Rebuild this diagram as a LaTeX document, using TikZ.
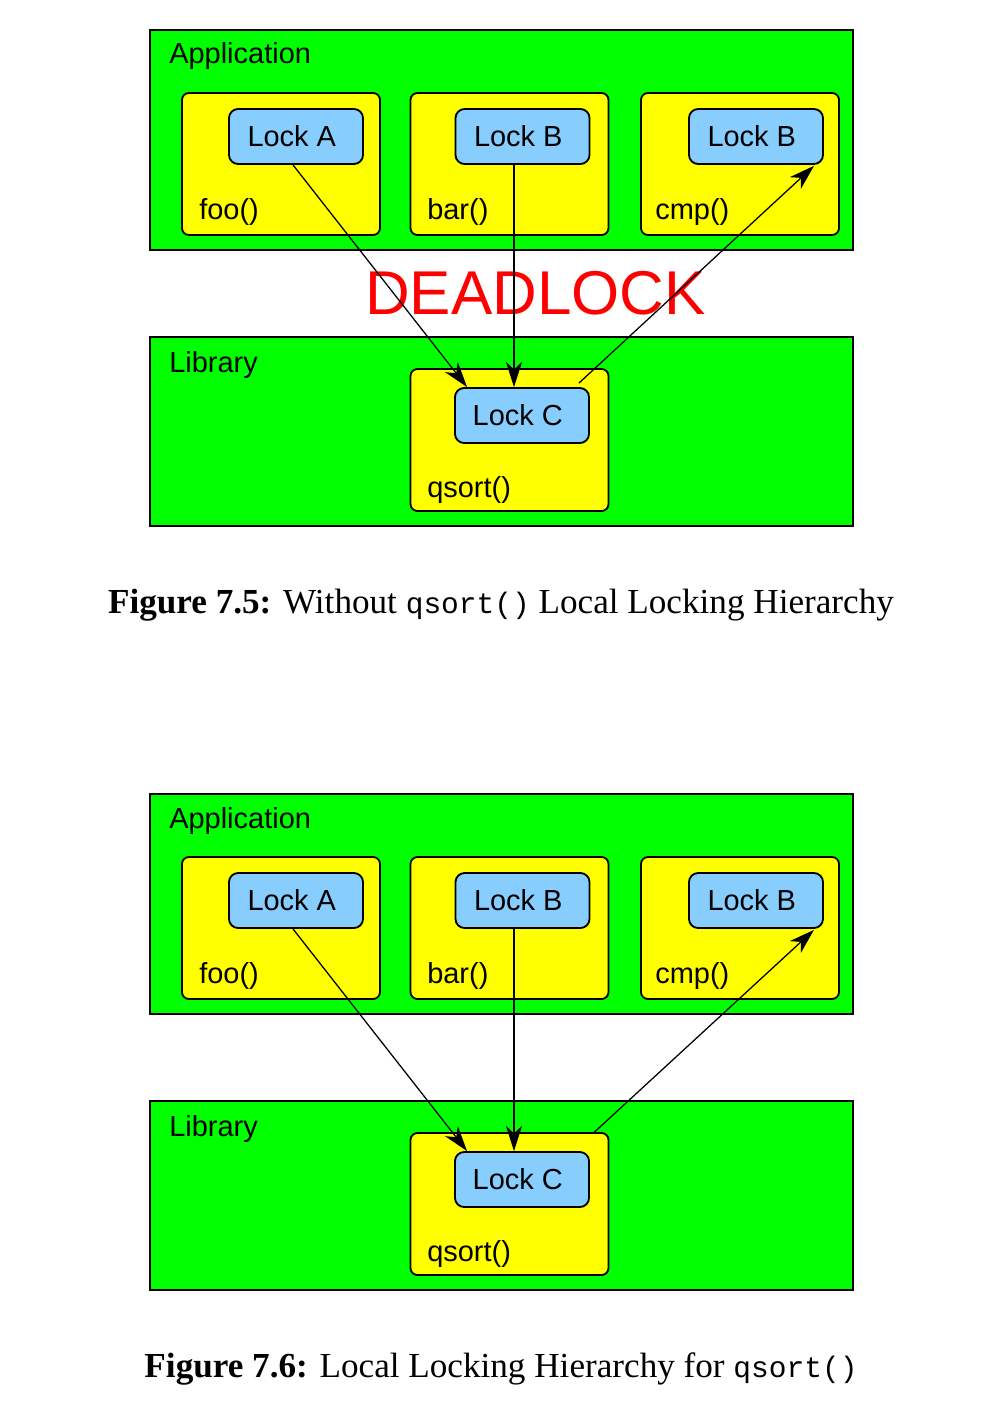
\documentclass[tikz,border=0pt]{standalone}
\usepackage{fontspec}
\setmainfont{Liberation Serif}
\setsansfont{Liberation Sans}
\setmonofont{Liberation Mono}[Scale=0.84]
\usetikzlibrary{arrows.meta, calc}
\definecolor{figgreen}{RGB}{0,255,0}
\definecolor{figyellow}{RGB}{255,255,0}
\definecolor{figblue}{RGB}{135,206,255}
\tikzset{
  layerbox/.style={draw, line width=1.3pt, fill=figgreen, minimum width=17.575cm, inner sep=0},
  funcbox/.style={draw, line width=1.3pt, fill=figyellow, rounded corners=5pt, minimum width=4.95cm, minimum height=3.55cm, inner sep=0},
  lockbox/.style={draw, line width=1.3pt, fill=figblue, rounded corners=6.5pt, minimum width=3.35cm, minimum height=1.375cm, inner sep=0, font=\sffamily\fontsize{20.6}{24}\selectfont, execute at end node=\hspace*{6pt}},
  txt/.style={anchor=base west, inner sep=0, font=\sffamily\fontsize{20.6}{24}\selectfont},
  figcap/.style={anchor=base, inner sep=0, font=\fontsize{25}{30}\selectfont},
  dep/.style={-{Stealth[length=18pt,width=11.5pt,inset=5.5pt]}, line width=0.9pt},
}

\begin{document}
\begin{tikzpicture}[x=0.025cm, y=-0.025cm]
\useasboundingbox (0,0) rectangle (989,1413);
\node[font=\sffamily\fontsize{44}{50}\selectfont, text=red, inner sep=0] (dead) at (535.5,293) {DEADLOCK};
\foreach \oy/\n in {0/1, 764/2} {
  \node[layerbox, minimum height=5.5cm] (app\n) at (501.5,140+\oy) {};
  \node[layerbox, minimum height=4.725cm] (lib\n) at (501.5,431.5+\oy) {};
  \node[funcbox] (foo\n) at (281,164+\oy) {};
  \node[funcbox] (bar\n) at (509.5,164+\oy) {};
  \node[funcbox] (cmp\n) at (740,164+\oy) {};
  \node[funcbox] (qs\n) at (509.5,440+\oy) {};
  \node[lockbox] (lockA\n) at (296,136.5+\oy) {Lock A};
  \node[lockbox] (lockB\n) at (522.5,136.5+\oy) {Lock B};
  \node[lockbox] (lockD\n) at (756,136.5+\oy) {Lock B};
  \node[lockbox] (lockC\n) at (522,415.5+\oy) {Lock C};
  \node[txt] (appname\n) at (169,64+\oy) {Application};
  \node[txt] (libname\n) at (169,372+\oy) {Library};
  \node[txt] (fooname\n) at (199,219+\oy) {foo()};
  \node[txt] (barname\n) at (427,219+\oy) {bar()};
  \node[txt] (cmpname\n) at (655,219+\oy) {cmp()};
  \node[txt] (qsname\n) at (427,497+\oy) {qsort()};
  \draw[dep] ($(lockA\n.south)+(-3,0)$) -- ($(lockC\n.north west)+(13,0)$);
  \draw[dep] ($(lockB\n.south)+(-8.5,0)$) -- ($(lockC\n.north)+(-8,0)$);
}
\draw[dep] ($(lockC1.north east)+(-11,-4)$) -- ($(lockD1.south east)+(-10,1)$);
\draw[dep] ($(qs2.north east)+(-15,0)$) -- ($(lockD2.south east)+(-10,1)$);
\node[figcap] (cap1) at (501,613) {\textbf{Figure 7.5:} Without \texttt{qsort()} Local Locking Hierarchy};
\node[figcap] (cap2) at (501,1377) {\textbf{Figure 7.6:} Local Locking Hierarchy for \texttt{qsort()}};
\end{tikzpicture}
\end{document}
